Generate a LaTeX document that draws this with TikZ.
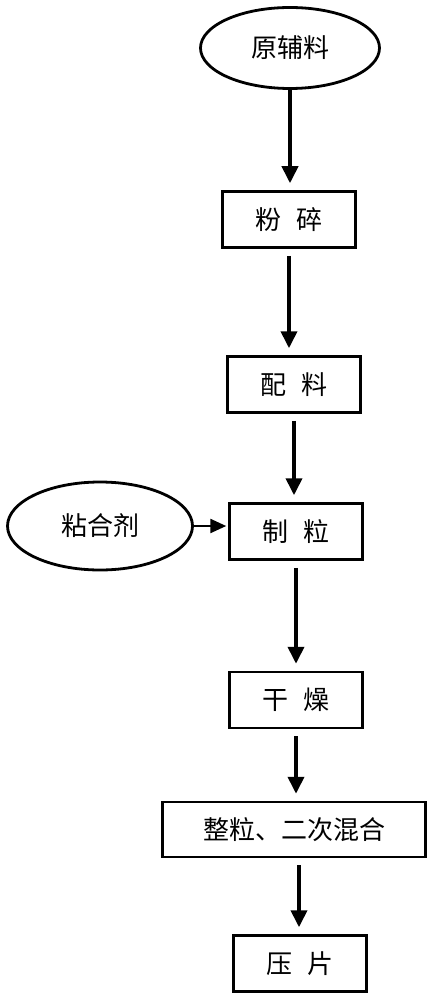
\documentclass[tikz,border=0pt]{standalone}
\usepackage{fontspec}
\newfontfamily\cjk{Noto Sans CJK SC}
\usetikzlibrary{shapes.geometric,arrows.meta}
\begin{document}
\begin{tikzpicture}[x=1pt,y=-1pt,
  lbl/.style={font=\cjk\fontsize{26}{30}\selectfont},
  box/.style={lbl,draw,line width=2.5pt,minimum width=133pt,minimum height=56pt,inner sep=0pt},
  oval/.style={lbl,draw,ellipse,line width=2.8pt,inner sep=0pt},
  flow/.style={line width=3.8pt,-{Triangle[length=17pt,width=16pt]},shorten >=7pt,shorten <=7pt},
  side/.style={line width=2.4pt,-{Triangle[length=16pt,width=14pt]},shorten >=2pt}]
\useasboundingbox (0,0) rectangle (434,1000);
\node[oval,minimum width=179pt,minimum height=81pt] (raw) at (290,48) {原辅料};
\node[box] (crush) at (289,219.5) {粉\hspace{0.55em}碎};
\node[box] (mix) at (294,384.5) {配\hspace{0.55em}料};
\node[box] (gran) at (296,531.5) {制\hspace{0.55em}粒};
\node[oval,minimum width=185pt,minimum height=88pt] (bind) at (100,526) {粘合剂};
\node[box] (dry) at (296,700) {干\hspace{0.55em}燥};
\node[box,minimum width=263pt,minimum height=55pt] (size) at (294,829.5) {整粒、二次混合};
\node[box] (press) at (300,963.5) {压\hspace{0.55em}片};
\draw[flow,shorten <=0pt] (raw.south) -- (raw.south |- crush.north);
\draw[flow] (crush.south) -- (crush.south |- mix.north);
\draw[flow] (mix.south) -- (mix.south |- gran.north);
\draw[flow] (gran.south) -- (gran.south |- dry.north);
\draw[flow] (dry.south) -- (dry.south |- size.north);
\draw[flow] (size.south) ++(5,0) coordinate (s5) -- (s5 |- press.north);
\draw[side] (bind.east) -- (bind.east -| gran.west);
\end{tikzpicture}
\end{document}
